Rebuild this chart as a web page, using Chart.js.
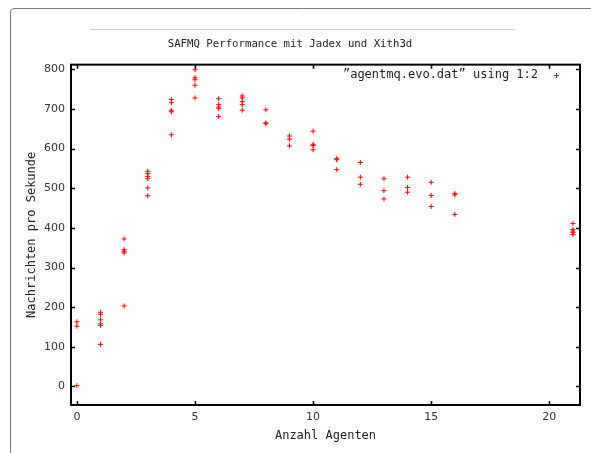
<!DOCTYPE html>
<html>
<head>
<meta charset="utf-8">
<script src="https://cdn.jsdelivr.net/npm/chart.js@4/dist/chart.umd.min.js"></script>
<style>
  html, body { margin: 0; padding: 0; background: #fff; overflow: hidden; }
  canvas { display: block; }
</style>
</head>
<body>
<canvas id="chart" width="591" height="453"></canvas>
<script>
// Measured throughput per run, grouped by number of agents
const agentCounts = [0, 1, 2, 3, 4, 5, 6, 7, 8, 9, 10, 11, 12, 13, 14, 15, 16, 21];
const msgsPerSecond = [
  [163, 152, 2],
  [187, 182, 168, 158, 154, 106],
  [372, 345, 341, 337, 203],
  [543, 537, 530, 524, 501, 481],
  [724, 716, 697, 693, 635],
  [799, 779, 774, 760, 728],
  [726, 711, 705, 701, 681],
  [733, 728, 719, 711, 697],
  [698, 665, 663],
  [632, 624, 607],
  [644, 611, 608, 597],
  [575, 572, 547],
  [565, 528, 510],
  [524, 494, 473],
  [528, 502, 490],
  [515, 482, 454],
  [487, 483, 434],
  [411, 396, 392, 388, 383]
];
const xTickValues = [0, 5, 10, 15, 20];
const yTickValues = [0, 100, 200, 300, 400, 500, 600, 700, 800];

const points = [];
agentCounts.forEach((n, i) => {
  msgsPerSecond[i].forEach(v => points.push({ x: n, y: v }));
});

const RED = 'rgb(255,0,0)';
const MONO = '"DejaVu Sans Mono", "Liberation Mono", monospace';
const SANS = '"DejaVu Sans", sans-serif';

// Window-style frame around the figure
const framePlugin = {
  id: 'frame',
  beforeDraw(chart) {
    const ctx = chart.ctx;
    ctx.save();
    ctx.fillStyle = '#fff';
    ctx.fillRect(0, 0, chart.width, chart.height);
    ctx.strokeStyle = '#7a7a7a';
    ctx.lineWidth = 1;
    ctx.beginPath();
    ctx.moveTo(10.5, chart.height);
    ctx.lineTo(10.5, 12);
    ctx.quadraticCurveTo(10.5, 8.5, 14, 8.5);
    ctx.lineTo(chart.width, 8.5);
    ctx.stroke();
    ctx.strokeStyle = '#cfcfcf';
    ctx.beginPath();
    ctx.moveTo(90, 29.5);
    ctx.lineTo(515, 29.5);
    ctx.stroke();
    ctx.restore();
  }
};

// Closed plot border with inward, mirrored tick marks
const borderPlugin = {
  id: 'plotBorder',
  afterDraw(chart) {
    const { ctx, chartArea: a, scales } = chart;
    const tl = 4;
    ctx.save();
    ctx.strokeStyle = '#000';
    ctx.lineWidth = 1.6;
    ctx.beginPath();
    scales.x.ticks.forEach(t => {
      const px = Math.round(scales.x.getPixelForValue(t.value)) + 0.5;
      ctx.moveTo(px, a.bottom); ctx.lineTo(px, a.bottom - tl);
      ctx.moveTo(px, a.top); ctx.lineTo(px, a.top + tl);
    });
    scales.y.ticks.forEach(t => {
      const py = Math.round(scales.y.getPixelForValue(t.value)) + 0.5;
      ctx.moveTo(a.left, py); ctx.lineTo(a.left + tl, py);
      ctx.moveTo(a.right, py); ctx.lineTo(a.right - tl, py);
    });
    ctx.stroke();
    ctx.lineWidth = 2;
    ctx.strokeRect(a.left, a.top, a.right - a.left, a.bottom - a.top);
    ctx.restore();
  }
};

// Key inside the plot: label text followed by the point symbol
const keyPlugin = {
  id: 'key',
  afterDraw(chart) {
    const ctx = chart.ctx;
    const ds = chart.data.datasets[0];
    ctx.save();
    ctx.font = '12px ' + MONO;
    ctx.fillStyle = '#222';
    ctx.textAlign = 'right';
    ctx.textBaseline = 'middle';
    ctx.fillText(ds.label, 538, 75);
    ctx.strokeStyle = ds.borderColor;
    ctx.lineWidth = ds.borderWidth;
    Chart.helpers.drawPoint(ctx, { pointStyle: 'cross', radius: ds.pointRadius, borderWidth: ds.borderWidth }, 556.5, 75.5);
    ctx.restore();
  }
};

new Chart(document.getElementById('chart'), {
  type: 'scatter',
  data: {
    datasets: [{
      label: '\u201dagentmq.evo.dat\u201d using 1:2',
      data: points,
      pointStyle: 'cross',
      pointRadius: 2.5,
      pointHoverRadius: 2.5,
      borderColor: RED,
      backgroundColor: RED,
      borderWidth: 1
    }]
  },
  options: {
    responsive: false,
    animation: false,
    events: [],
    layout: { padding: { left: 0, right: 11, top: 0, bottom: 0 } },
    plugins: {
      legend: { display: false },
      tooltip: { enabled: false },
      title: {
        display: true,
        text: 'SAFMQ Performance mit Jadex und Xith3d',
        color: '#222',
        font: { family: MONO, size: 10.7, weight: 'normal' },
        padding: { top: 38, bottom: 13.8 }
      }
    },
    scales: {
      x: {
        type: 'linear',
        min: -0.25,
        max: 21.3,
        afterBuildTicks: s => { s.ticks = xTickValues.map(v => ({ value: v })); },
        afterFit: s => { s.height = 48; },
        grid: { display: false, drawTicks: false },
        border: { display: false },
        ticks: { color: '#333', font: { family: SANS, size: 11 }, padding: 6, maxRotation: 0 },
        title: {
          display: true,
          text: 'Anzahl Agenten',
          color: '#222',
          font: { family: MONO, size: 12 },
          padding: { top: 0, bottom: 10 }
        }
      },
      y: {
        type: 'linear',
        min: -47,
        max: 812,
        afterBuildTicks: s => { s.ticks = yTickValues.map(v => ({ value: v })); },
        afterFit: s => { s.width = 71; },
        grid: { display: false, drawTicks: false },
        border: { display: false },
        ticks: { color: '#333', font: { family: SANS, size: 11 }, padding: 6 },
        title: {
          display: true,
          text: 'Nachrichten pro Sekunde',
          color: '#222',
          font: { family: MONO, size: 12 },
          padding: { top: 25, bottom: 0 }
        }
      }
    }
  },
  plugins: [framePlugin, borderPlugin, keyPlugin]
});
</script>
</body>
</html>
